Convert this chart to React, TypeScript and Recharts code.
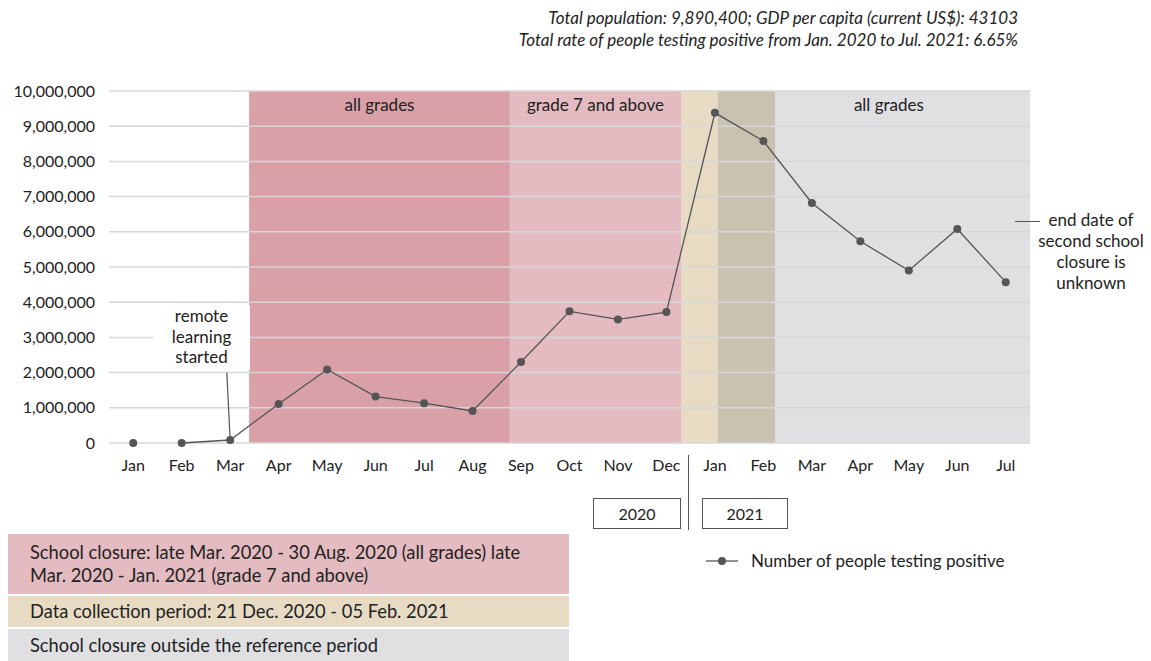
import React from 'react';
import {
  LineChart,
  Line,
  XAxis,
  YAxis,
  ReferenceArea,
  ReferenceLine,
} from 'recharts';

const months = ['Jan', 'Feb', 'Mar', 'Apr', 'May', 'Jun', 'Jul', 'Aug', 'Sep', 'Oct', 'Nov', 'Dec', 'Jan', 'Feb', 'Mar', 'Apr', 'May', 'Jun', 'Jul'];
// Jan 2020 is drawn on its own, not joined to the rest of the line
const unlinked = [0, null, null, null, null, null, null, null, null, null, null, null, null, null, null, null, null, null, null];
const positives = [null, 0, 85000, 1110000, 2090000, 1320000, 1130000, 910000, 2300000, 3740000, 3510000, 3720000, 9380000, 8580000, 6820000, 5730000, 4900000, 6080000, 4570000];
const yTicks = [0, 1000000, 2000000, 3000000, 4000000, 5000000, 6000000, 7000000, 8000000, 9000000, 10000000];

// periods in month-index units
const closureAll = [2.39, 7.77];
const closureUpper = [7.77, 11.3];
const collection = [11.3, 13.24];
const outside = [12.06, 18.5];

const data = months.map((m, i) => ({ idx: i, month: m, positive: positives[i], unlinked: unlinked[i] }));

const font = 'Lato, "Open Sans", sans-serif';
const ink = '#222';

export default function App() {
  const overlap = [Math.max(collection[0], outside[0]), Math.min(collection[1], outside[1])];
  return (
    <div style={{ position: 'relative', width: 1151, height: 661, overflow: 'hidden', fontFamily: font, background: '#fff' }}>
      <style>{'html, body { margin: 0; padding: 0; overflow: hidden; }'}</style>
      <div style={{ position: 'absolute', right: 133, top: 7, textAlign: 'right', fontStyle: 'italic', fontSize: 17, lineHeight: '22px', color: ink, whiteSpace: 'nowrap' }}>
        <div>Total population: 9,890,400; GDP per capita (current US$): 43103</div>
        <div>Total rate of people testing positive from Jan. 2020 to Jul. 2021: 6.65%</div>
      </div>

      <LineChart width={1151} height={661} data={data} margin={{ top: 91, right: 121, bottom: 188, left: 9 }} style={{ position: 'absolute', left: 0, top: 0 }}>
        <XAxis
          dataKey="idx"
          type="number"
          domain={[-0.5, 18.5]}
          ticks={months.map((_, i) => i)}
          tickFormatter={(i: number) => months[i]}
          axisLine={false}
          tickLine={false}
          tickMargin={11}
          height={30}
          tick={{ fill: ink, fontSize: 16, fontFamily: font }}
          interval={0}
        />
        <YAxis
          type="number"
          domain={[0, 10000000]}
          ticks={yTicks}
          tickFormatter={(v: number) => v.toLocaleString('en-US')}
          axisLine={false}
          tickLine={false}
          tickMargin={8}
          width={100}
          tick={{ fill: ink, fontSize: 16, fontFamily: font }}
        />
        <ReferenceArea x1={closureAll[0]} x2={closureAll[1]} fill="#d9a1a7" fillOpacity={1} stroke="none"
          label={{ value: 'all grades', position: 'insideTop', offset: 8, fill: ink, fontSize: 17, fontFamily: font }} />
        <ReferenceArea x1={closureUpper[0]} x2={closureUpper[1]} fill="#e3bbc0" fillOpacity={1} stroke="none"
          label={{ value: 'grade 7 and above', position: 'insideTop', offset: 8, fill: ink, fontSize: 17, fontFamily: font }} />
        <ReferenceArea x1={collection[0]} x2={collection[1]} fill="#e7dcc3" fillOpacity={1} stroke="none" />
        <ReferenceArea x1={outside[0]} x2={outside[1]} fill="#e0e0e3" fillOpacity={1} stroke="none"
          label={{ value: 'all grades', position: 'insideTop', offset: 8, dx: 15, fill: ink, fontSize: 17, fontFamily: font }} />
        <ReferenceArea x1={overlap[0]} x2={overlap[1]} fill="#c9c2b0" fillOpacity={1} stroke="none" />
        {yTicks.map((t) => (
          <ReferenceLine key={t} y={t} stroke="#d6d6db" strokeWidth={1.5} />
        ))}
        <ReferenceLine segment={[{ x: 1.93, y: 2000000 }, { x: 2, y: 85000 }]} stroke="#555" strokeWidth={1.2} />
        <Line dataKey="positive" stroke="#555" strokeWidth={1.3} dot={{ r: 4, fill: '#555', stroke: 'none' }} connectNulls={false} isAnimationActive={false} />
        <Line dataKey="unlinked" stroke="none" dot={{ r: 4, fill: '#555', stroke: 'none' }} isAnimationActive={false} legendType="none" />
      </LineChart>

      {/* series legend */}
      <div style={{ position: 'absolute', left: 706, top: 550, display: 'flex', alignItems: 'center', fontSize: 17, color: ink, whiteSpace: 'nowrap' }}>
        <svg width={32} height={10} style={{ marginRight: 13 }}>
          <line x1={0} y1={5} x2={32} y2={5} stroke="#555" strokeWidth={1.3} />
          <circle cx={16} cy={5} r={4} fill="#555" />
        </svg>
        Number of people testing positive
      </div>

      {/* annotations */}
      <div style={{ position: 'absolute', left: 153, top: 306, width: 97, height: 64, background: '#fff', textAlign: 'center', fontSize: 17, lineHeight: '20.5px', color: ink }}>
        remote<br />learning<br />started
      </div>
      <div style={{ position: 'absolute', left: 1015, top: 221, width: 25, borderTop: '1px solid #555' }} />
      <div style={{ position: 'absolute', left: 1031, top: 209, width: 120, textAlign: 'center', fontSize: 17, lineHeight: '21px', color: ink, whiteSpace: 'nowrap' }}>
        end date of<br />second school<br />closure is<br />unknown
      </div>

      {/* year separator */}
      <div style={{ position: 'absolute', left: 688, top: 455, height: 75, borderLeft: '1.5px solid #555' }} />
      <div style={{ position: 'absolute', left: 593, top: 498, width: 86, height: 29, border: '1px solid #555', textAlign: 'center', lineHeight: '29px', fontSize: 16, color: ink }}>2020</div>
      <div style={{ position: 'absolute', left: 702, top: 498, width: 84, height: 29, border: '1px solid #555', textAlign: 'center', lineHeight: '29px', fontSize: 16, color: ink }}>2021</div>

      {/* period legend */}
      <div style={{ position: 'absolute', left: 8, top: 534, width: 539, height: 53, background: '#e3bbc0', padding: '7px 0 0 22px', boxSizing: 'content-box', fontSize: 18.3, lineHeight: '23px', color: ink, whiteSpace: 'nowrap' }}>
        School closure: late Mar. 2020 - 30 Aug. 2020 (all grades) late<br />Mar. 2020 - Jan. 2021 (grade 7 and above)
      </div>
      <div style={{ position: 'absolute', left: 8, top: 596, width: 539, height: 31, background: '#e7dcc3', paddingLeft: 22, lineHeight: '31px', fontSize: 18.3, color: ink, whiteSpace: 'nowrap' }}>
        Data collection period: 21 Dec. 2020 - 05 Feb. 2021
      </div>
      <div style={{ position: 'absolute', left: 8, top: 629, width: 539, height: 32, background: '#e0e0e3', paddingLeft: 22, lineHeight: '32px', fontSize: 18.3, color: ink, whiteSpace: 'nowrap' }}>
        School closure outside the reference period
      </div>
    </div>
  );
}
